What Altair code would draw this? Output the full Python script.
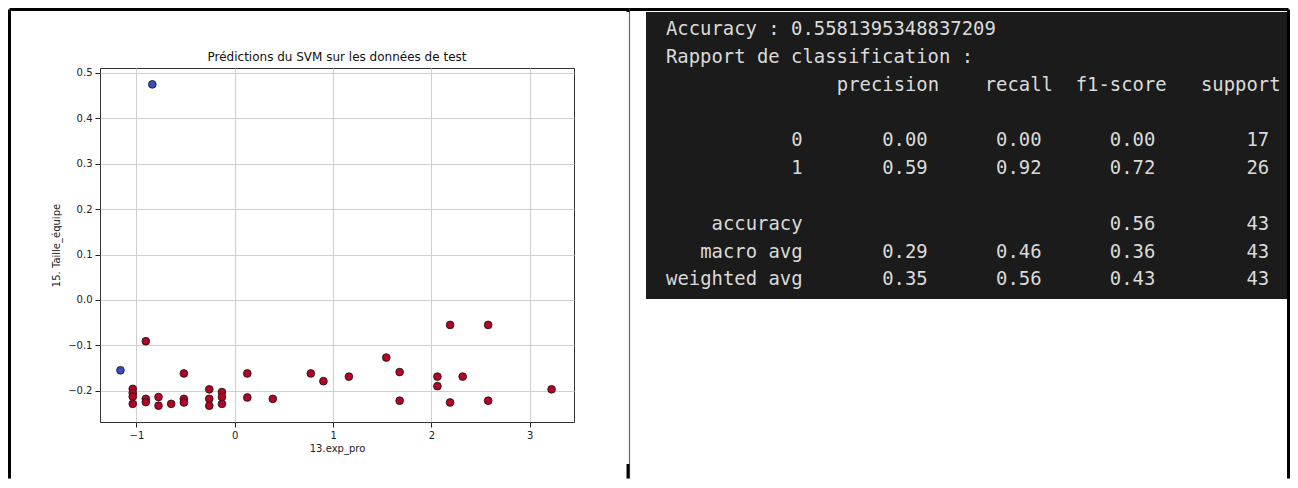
import altair as alt
import pandas as pd

# ---- scatter data ----
exp_pro = [-0.838, -1.162,
           -0.904,
           -1.037, -1.037, -1.037, -1.037,
           -0.904, -0.904,
           -0.775, -0.775,
           -0.646,
           -0.517, -0.517, -0.517,
           -0.259, -0.259, -0.259,
           -0.130, -0.130, -0.130,
           0.128, 0.128,
           0.387,
           0.774,
           0.902,
           1.161,
           1.541,
           1.677, 1.677,
           2.061, 2.061,
           2.190, 2.190,
           2.318,
           2.577, 2.577,
           3.222]
taille_equipe = [0.475, -0.155,
                 -0.091,
                 -0.196, -0.205, -0.213, -0.229,
                 -0.218, -0.225,
                 -0.214, -0.233,
                 -0.229,
                 -0.162, -0.218, -0.226,
                 -0.197, -0.218, -0.233,
                 -0.203, -0.214, -0.229,
                 -0.162, -0.215,
                 -0.218,
                 -0.162,
                 -0.179,
                 -0.169,
                 -0.127,
                 -0.159, -0.222,
                 -0.169, -0.190,
                 -0.055, -0.226,
                 -0.169,
                 -0.055, -0.222,
                 -0.197]
prediction = [0, 0] + [1] * (len(exp_pro) - 2)

# ---- classification report ----
accuracy_text = "0.5581395348837209"
headers = ["precision", "recall", "f1-score", "support"]
row_labels = ["0", "1", "accuracy", "macro avg", "weighted avg"]
precision_vals = ["0.00", "0.59", "", "0.29", "0.35"]
recall_vals = ["0.00", "0.92", "", "0.46", "0.56"]
f1_vals = ["0.00", "0.72", "0.56", "0.36", "0.43"]
support_vals = ["17", "26", "43", "43", "43"]
row_lines = [4, 5, 7, 8, 9]

points = pd.DataFrame({"x": exp_pro, "y": taille_equipe, "pred": prediction})

left_lines = pd.DataFrame({
    "line": [0, 1],
    "col": [0, 0],
    "txt": ["Accuracy : " + accuracy_text, "Rapport de classification :"],
})

cells = []
for h, c in zip(headers, [24, 34, 44, 54]):
    cells.append({"line": 2, "col": c, "txt": h})
for ln, lab, p, r, f, s in zip(row_lines, row_labels, precision_vals, recall_vals, f1_vals, support_vals):
    for c, t in zip([12, 23, 33, 43, 53], [lab, p, r, f, s]):
        if t:
            cells.append({"line": ln, "col": c, "txt": t})
cells = pd.DataFrame(cells)

one = pd.DataFrame({"a": [0]})

W, H = 474, 354

scatter = alt.Chart(points).mark_point(
    filled=True, size=60, stroke="#111111", strokeWidth=0.8, opacity=1
).encode(
    x=alt.X("x:Q", scale=alt.Scale(domain=[-1.37, 3.45], nice=False, zero=False),
            axis=alt.Axis(title="13.exp_pro", values=[-1, 0, 1, 2, 3], format="d",
                          grid=True, gridColor="#cfcfcf", domain=False,
                          tickSize=5, tickColor="#222222", labelPadding=3,
                          titlePadding=3)),
    y=alt.Y("y:Q", scale=alt.Scale(domain=[-0.269, 0.511], nice=False, zero=False),
            axis=alt.Axis(title="15. Taille_équipe",
                          values=[-0.2, -0.1, 0.0, 0.1, 0.2, 0.3, 0.4, 0.5], format=".1f",
                          grid=True, gridColor="#cfcfcf", domain=False,
                          tickSize=5, tickColor="#222222", labelPadding=3,
                          titlePadding=6)),
    color=alt.Color("pred:N", scale=alt.Scale(domain=[0, 1], range=["#3b4cc0", "#b40426"]),
                    legend=None),
)

title = alt.Chart(one).mark_text(
    text="Prédictions du SVM sur les données de test", font="DejaVu Sans",
    fontSize=12, align="center", baseline="alphabetic", color="#111111", clip=False
).encode(x=alt.value(W / 2), y=alt.value(-7))

panel = alt.Chart(one).mark_rect(color="#1b1b1b", clip=False).encode(
    x=alt.value(546), x2=alt.value(1188), y=alt.value(-56), y2=alt.value(231)
)

char_w = 11.38
x0 = 566.0
text_x = alt.Scale(domain=[-x0 / char_w, (W - x0) / char_w], nice=False, zero=False)
line_h = 27.8
y0 = -32.8
text_y = alt.Scale(domain=[-y0 / line_h, (H - y0) / line_h], nice=False, zero=False, reverse=True)

mono = dict(font="DejaVu Sans Mono", fontSize=18.9, color="#dadada",
            baseline="alphabetic", clip=False)

text_left = alt.Chart(left_lines).mark_text(align="left", **mono).encode(
    x=alt.X("col:Q", scale=text_x, axis=None),
    y=alt.Y("line:Q", scale=text_y, axis=None),
    text="txt:N",
)
text_right = alt.Chart(cells).mark_text(align="right", **mono).encode(
    x=alt.X("col:Q", scale=text_x, axis=None),
    y=alt.Y("line:Q", scale=text_y, axis=None),
    text="txt:N",
)

def rule(x, x2, y, y2, color="#000000", w=3):
    return alt.Chart(one).mark_rule(color=color, strokeWidth=w, clip=False).encode(
        x=alt.value(x), x2=alt.value(x2), y=alt.value(y), y2=alt.value(y2)
    )

frame = [
    rule(-90.5, 1188.5, -58.5, -58.5),          # top border
    rule(-90.5, -90.5, -58.5, 410.5),           # left border
    rule(1188.5, 1188.5, -58.5, 410.5),         # right border
    rule(529.5, 529.5, -58.5, 410.5, "#666666", 1.2),  # middle divider
    rule(528, 528, -58.5, -56),                 # divider top cap
    rule(528, 528, 396, 410.5),                 # divider bottom cap
]

chart = alt.layer(
    panel, scatter, title, text_left, text_right, *frame
).resolve_scale(
    x="independent", y="independent"
).properties(
    width=W, height=H, padding=0,
    view=alt.ViewBackground(stroke="#333333", strokeWidth=1)
).configure_axis(
    labelFont="DejaVu Sans", titleFont="DejaVu Sans", labelFontSize=10,
    titleFontSize=10, titleFontWeight="normal", labelColor="#222222",
    titleColor="#222222"
)

chart.save("out.html", embed_options={"renderer": "svg", "actions": False})
